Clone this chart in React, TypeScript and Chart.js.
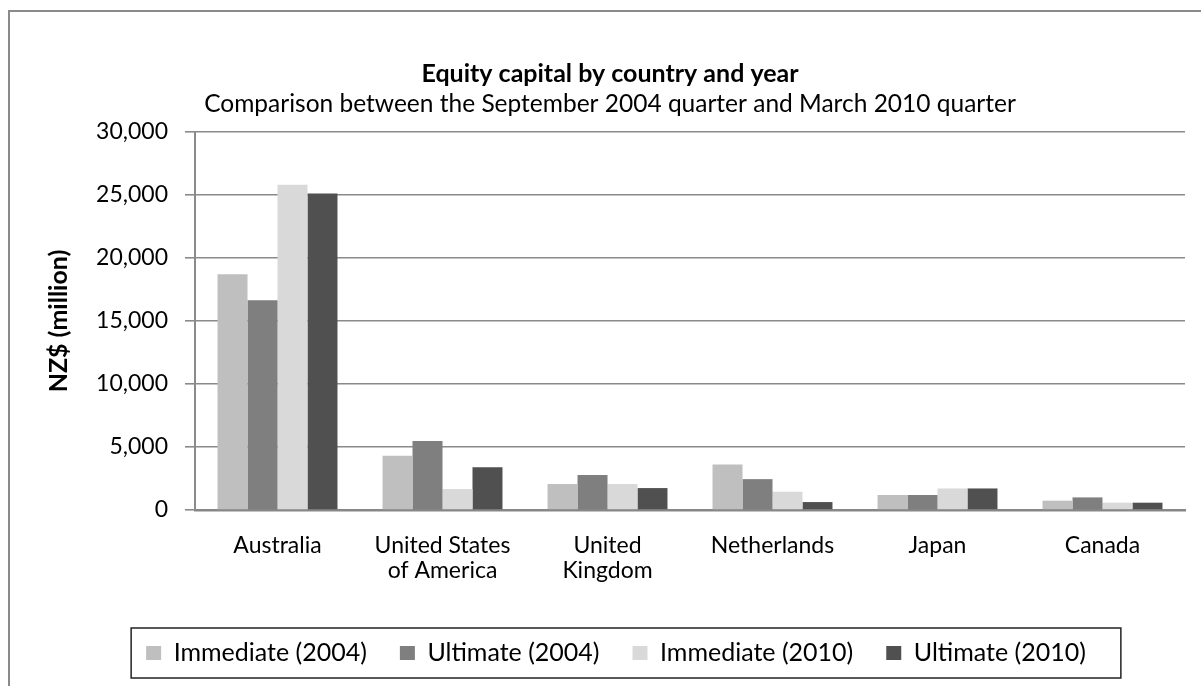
import React, { useEffect, useRef } from 'react';
import { Chart, registerables } from 'chart.js';

Chart.register(...registerables);

const categories: (string | string[])[] = [
  'Australia',
  ['United States', 'of America'],
  ['United', 'Kingdom'],
  'Netherlands',
  'Japan',
  'Canada',
];
const seriesNames = ['Immediate (2004)', 'Ultimate (2004)', 'Immediate (2010)', 'Ultimate (2010)'];
const immediate2004 = [18720, 4300, 2060, 3610, 1190, 740];
const ultimate2004 = [16640, 5470, 2770, 2450, 1190, 1000];
const immediate2010 = [25810, 1660, 2060, 1450, 1710, 580];
const ultimate2010 = [25120, 3400, 1740, 630, 1710, 580];
const seriesColors = ['#BFBFBF', '#7F7F7F', '#D9D9D9', '#505050'];
const yMin = 0;
const yMax = 30000;
const yStep = 5000;
const chartTitle = 'Equity capital by country and year';
const chartSubtitle = 'Comparison between the September 2004 quarter and March 2010 quarter';
const yAxisTitle = 'NZ$ (million)';

const FONT = 'Lato';

const framePlugin = {
  id: 'frame',
  beforeDraw(chart: any) {
    const ctx = chart.ctx;
    ctx.save();
    ctx.strokeStyle = '#8a8a8a';
    ctx.lineWidth = 2;
    ctx.beginPath();
    ctx.moveTo(9, chart.height);
    ctx.lineTo(9, 11);
    ctx.lineTo(chart.width, 11);
    ctx.stroke();
    ctx.restore();
  },
};

const legendShiftPlugin = {
  id: 'legendShift',
  afterLayout(chart: any) {
    const lg = chart.legend;
    if (lg) {
      lg.left += 6;
      lg.right += 6;
    }
  },
};

const legendBorderPlugin = {
  id: 'legendBorder',
  afterDraw(chart: any) {
    const hb = chart.legend && chart.legend.legendHitBoxes;
    if (!hb || !hb.length) return;
    const first = hb[0];
    const last = hb[hb.length - 1];
    const l = first.left - 15;
    const r = last.left + last.width + 35;
    const cy = first.top + first.height / 2;
    const ctx = chart.ctx;
    ctx.save();
    ctx.strokeStyle = '#222';
    ctx.lineWidth = 1.5;
    ctx.strokeRect(l, cy - 25, r - l, 50);
    ctx.restore();
  },
};

export default function App() {
  const ref = useRef<HTMLCanvasElement>(null);

  useEffect(() => {
    document.body.style.margin = '0';
    Chart.defaults.font.family = FONT;
    Chart.defaults.color = '#000';
    const seriesValues = [immediate2004, ultimate2004, immediate2010, ultimate2010];
    const chart = new Chart(ref.current as HTMLCanvasElement, {
      type: 'bar',
      data: {
        labels: categories as any,
        datasets: seriesNames.map((name, i) => ({
          label: name,
          data: seriesValues[i],
          backgroundColor: seriesColors[i],
          borderWidth: 0,
          categoryPercentage: 0.727,
          barPercentage: 1.0,
        })),
      },
      options: {
        responsive: false,
        animation: false,
        layout: { padding: { left: 35, right: 16, top: 0, bottom: 10.5 } },
        plugins: {
          tooltip: { enabled: false },
          title: {
            display: true,
            text: chartTitle,
            color: '#000',
            font: { family: FONT, size: 25, weight: 'bold' },
            padding: { top: 59, bottom: 0 },
          },
          subtitle: {
            display: true,
            text: chartSubtitle,
            color: '#000',
            font: { family: FONT, size: 24.5 },
            padding: { top: 0, bottom: 13.6 },
          },
          legend: {
            position: 'bottom',
            labels: {
              boxWidth: 15,
              boxHeight: 14,
              padding: 33,
              color: '#000',
              font: { family: FONT, size: 25 },
            },
          },
        },
        scales: {
          x: {
            ticks: {
              color: '#000',
              font: { family: FONT, size: 23, lineHeight: 1.1 },
              padding: 23,
              maxRotation: 0,
              autoSkip: false,
            },
            grid: { display: true, color: 'rgba(0,0,0,0)', drawTicks: false },
            border: { display: true, color: '#878787', width: 2.5 },
            afterFit: (s: any) => {
              s.height = 97.5;
            },
          },
          y: {
            min: yMin,
            max: yMax,
            ticks: {
              stepSize: yStep,
              padding: 17,
              color: '#000',
              font: { family: FONT, size: 23 },
              callback: (v: any) => Number(v).toLocaleString('en-US'),
            },
            grid: { color: '#8a8a8a', lineWidth: 1.6, tickLength: 10, drawTicks: true },
            border: { display: true, color: '#8a8a8a', width: 2 },
            title: {
              display: true,
              text: yAxisTitle,
              color: '#000',
              font: { family: FONT, size: 25, weight: 'bold' },
              padding: { top: 9, bottom: 0 },
            },
            afterFit: (s: any) => {
              s.width = 160;
            },
          },
        },
      } as any,
      plugins: [framePlugin, legendShiftPlugin, legendBorderPlugin],
    });
    return () => chart.destroy();
  }, []);

  return (
    <div style={{ width: 1201, height: 686 }}>
      <canvas ref={ref} width={1201} height={686} style={{ display: 'block' }} />
    </div>
  );
}
